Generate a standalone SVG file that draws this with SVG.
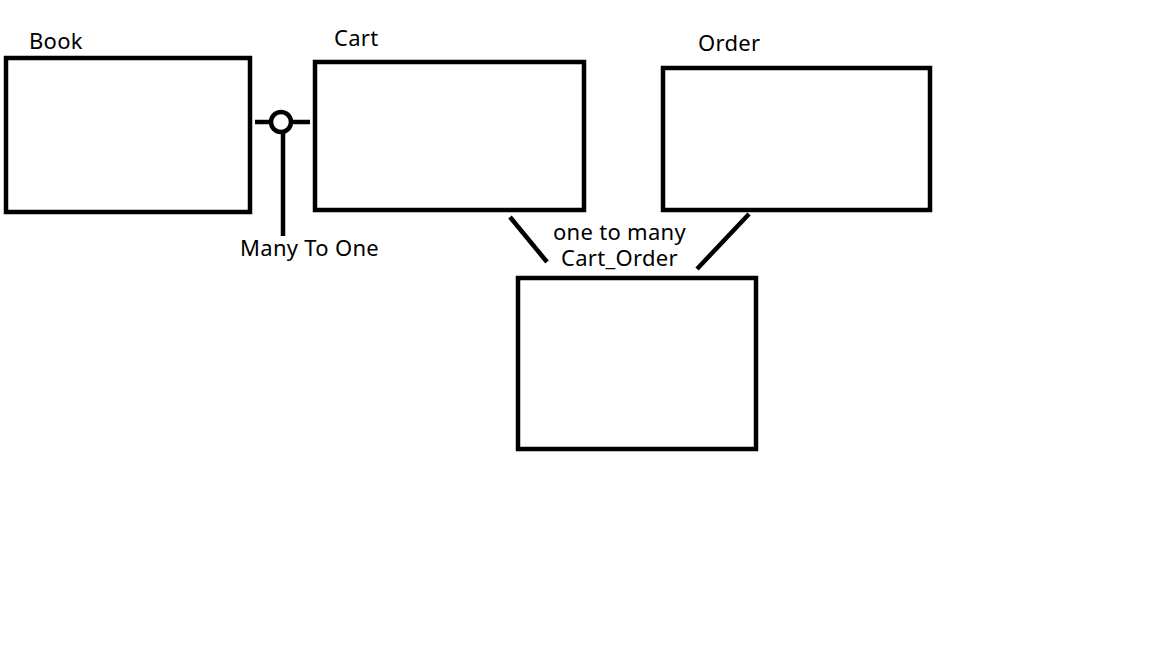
<svg xmlns="http://www.w3.org/2000/svg" width="1152" height="648" viewBox="0 0 1152 648">
<style>
.box{fill:#fff;stroke:#000;stroke-width:4.5}
.ln{fill:none;stroke:#000;stroke-width:4.5}
text{font-family:"Noto Sans","Open Sans",sans-serif;font-size:22px;letter-spacing:0.3px;fill:#000}
</style>
<rect width="1152" height="648" fill="#fff"/>
<g id="book"><rect class="box" x="6" y="58" width="244" height="154"/><text x="29" y="49">Book</text></g>
<g id="cart"><rect class="box" x="315" y="62" width="269" height="148"/><text x="334" y="46">Cart</text></g>
<g id="order"><rect class="box" x="663" y="68" width="267" height="142"/><text x="698" y="51">Order</text></g>
<g id="cart_order"><rect class="box" x="518" y="278" width="238" height="171"/><text x="561" y="266">Cart_Order</text></g>
<g id="connectors">
<line class="ln" x1="255" y1="122" x2="271" y2="122"/>
<line class="ln" x1="291" y1="122" x2="310" y2="122"/>
<circle class="ln" cx="281" cy="122" r="10"/>
<line class="ln" x1="283" y1="132" x2="283" y2="236"/>
<text x="240" y="256">Many To One</text>
<line class="ln" x1="510" y1="217" x2="547" y2="262"/>
<line class="ln" x1="749" y1="214" x2="697" y2="269"/>
<text x="553" y="240">one to many</text>
</g>
</svg>
